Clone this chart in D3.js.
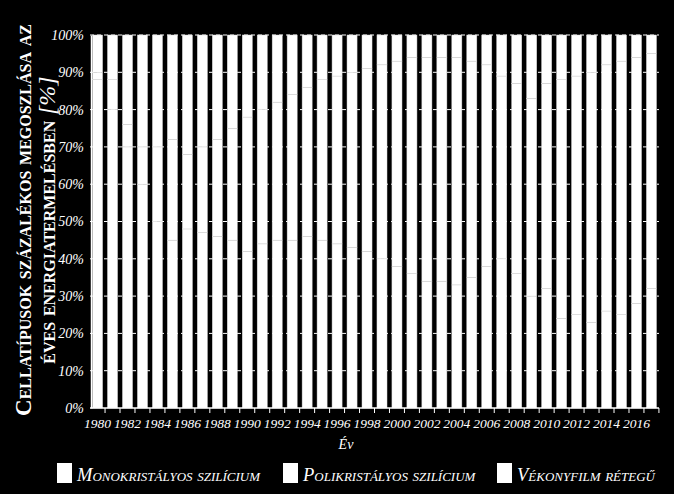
<!DOCTYPE html>
<html>
<head>
<meta charset="utf-8">
<script src="https://cdn.jsdelivr.net/npm/d3@7"></script>
<style>
  body { margin: 0; background: #000; }
  text { font-family: "Liberation Serif", "DejaVu Serif", serif; fill: #fff; }
</style>
</head>
<body>
<div id="chart"></div>
<script>
// years on the x axis
var years = d3.range(1980, 2018);
var tickYears = d3.range(1980, 2017, 2);

// share of each cell type (%)
var mono = [88, 80, 70, 60, 50, 45, 48, 47, 46, 45, 42, 44, 45, 45, 46, 45, 44, 43, 42, 40,
            38, 36, 34, 34, 33, 35, 38, 40, 36, 30, 32, 24, 25, 23, 26, 25, 28, 32];
var thin = [10, 12, 24, 30, 30, 28, 32, 30, 28, 25, 22, 20, 18, 16, 14, 12, 11, 10, 9, 8,
            7, 6, 6, 6, 6, 7, 8, 11, 13, 17, 13, 12, 11, 10, 8, 7, 6, 5];
var poly = mono.map(function (m, i) { return 100 - m - thin[i]; });

var seriesNames = ["Monokristályos szilícium", "Polikristályos szilícium", "Vékonyfilm rétegű"];

var width = 674, height = 494;
var margin = { top: 35, right: 15, bottom: 86, left: 90 };

var svg = d3.select("#chart").append("svg")
    .attr("width", width)
    .attr("height", height)
    .style("background", "#000");

var x = d3.scaleBand()
    .domain(years)
    .range([margin.left, width - margin.right])
    .paddingInner(0.33)
    .paddingOuter(0.17);

var y = d3.scaleLinear()
    .domain([0, 1])
    .range([height - margin.bottom, margin.top]);

// gridlines
svg.append("g")
    .selectAll("line")
    .data(d3.range(0.1, 1.01, 0.1))
    .enter()
    .append("line")
    .attr("x1", margin.left)
    .attr("x2", width - margin.right)
    .attr("y1", function (d) { return y(d); })
    .attr("y2", function (d) { return y(d); })
    .attr("stroke", "#fff")
    .attr("stroke-width", 1)
    .attr("stroke-dasharray", "4,3");

// stack the data
var table = years.map(function (yr, i) {
    return { year: yr, mono: mono[i], poly: poly[i], thin: thin[i] };
});
var stack = d3.stack()
    .keys(["mono", "poly", "thin"])
    .offset(d3.stackOffsetExpand);

svg.append("g")
    .selectAll("g")
    .data(stack(table))
    .enter()
    .append("g")
    .selectAll("rect")
    .data(function (d) { return d; })
    .enter()
    .append("rect")
    .attr("x", function (d) { return x(d.data.year); })
    .attr("width", x.bandwidth())
    .attr("y", function (d) { return y(d[1]); })
    .attr("height", function (d) { return y(d[0]) - y(d[1]); })
    .attr("fill", "#fff")
    .attr("stroke", "#d8d8d8")
    .attr("stroke-width", 0.5);

// y axis
var yAxis = svg.append("g")
    .attr("transform", "translate(" + (margin.left + 1) + ",0)")
    .call(d3.axisLeft(y).ticks(10, "%").tickSize(0).tickPadding(7));
yAxis.select(".domain").attr("stroke", "#fff").attr("stroke-width", 1.5);
yAxis.selectAll("text")
    .style("font-size", "14px")
    .style("font-style", "italic")
    .style("fill", "#fff");

// x axis
var xAxis = svg.append("g")
    .attr("transform", "translate(0," + (height - margin.bottom) + ")")
    .call(d3.axisBottom(x).tickValues(tickYears).tickSize(0).tickPadding(10));
xAxis.select(".domain").remove();
xAxis.selectAll("text")
    .style("font-size", "13.5px")
    .style("font-style", "italic")
    .style("fill", "#fff");

svg.append("line")
    .attr("x1", margin.left)
    .attr("x2", width - margin.right)
    .attr("y1", y(0))
    .attr("y2", y(0))
    .attr("stroke", "#fff")
    .attr("stroke-width", 1.5);

// tick marks between the bars
svg.append("g")
    .selectAll("line")
    .data(years)
    .enter()
    .append("line")
    .attr("x1", function (d) { return x(d) + x.bandwidth() + x.step() * 0.165; })
    .attr("x2", function (d) { return x(d) + x.bandwidth() + x.step() * 0.165; })
    .attr("y1", y(0))
    .attr("y2", y(0) + 5)
    .attr("stroke", "#fff")
    .attr("stroke-width", 1);

// axis titles
svg.append("text")
    .attr("x", 346)
    .attr("y", 449)
    .attr("text-anchor", "middle")
    .style("font-size", "14px")
    .style("font-style", "italic")
    .text("Év");

svg.append("text")
    .attr("transform", "translate(31,220) rotate(-90)")
    .attr("text-anchor", "middle")
    .style("font-size", "23px")
    .style("font-weight", "bold")
    .style("font-variant", "small-caps")
    .text("Cellatípusok százalékos megoszlása az");

var t2 = svg.append("text")
    .attr("transform", "translate(55,220) rotate(-90)")
    .attr("text-anchor", "middle")
    .style("font-size", "23px")
    .style("font-weight", "bold")
    .style("font-variant", "small-caps");
t2.append("tspan").text("éves energiatermelésben ");
t2.append("tspan")
    .style("font-variant", "normal")
    .style("font-weight", "normal")
    .style("font-style", "italic")
    .style("font-size", "24px")
    .text("[%]");

// legend
var legendX = [57, 283, 497];
var legend = svg.append("g")
    .selectAll("g")
    .data(seriesNames)
    .enter()
    .append("g")
    .attr("transform", function (d, i) { return "translate(" + legendX[i] + ",463)"; });

legend.append("rect")
    .attr("width", 15)
    .attr("height", 20)
    .attr("fill", "#fff");

legend.append("text")
    .attr("x", 20)
    .attr("y", 18)
    .style("font-size", "18.5px")
    .style("font-style", "italic")
    .style("font-variant", "small-caps")
    .text(function (d) { return d; });
</script>
</body>
</html>
